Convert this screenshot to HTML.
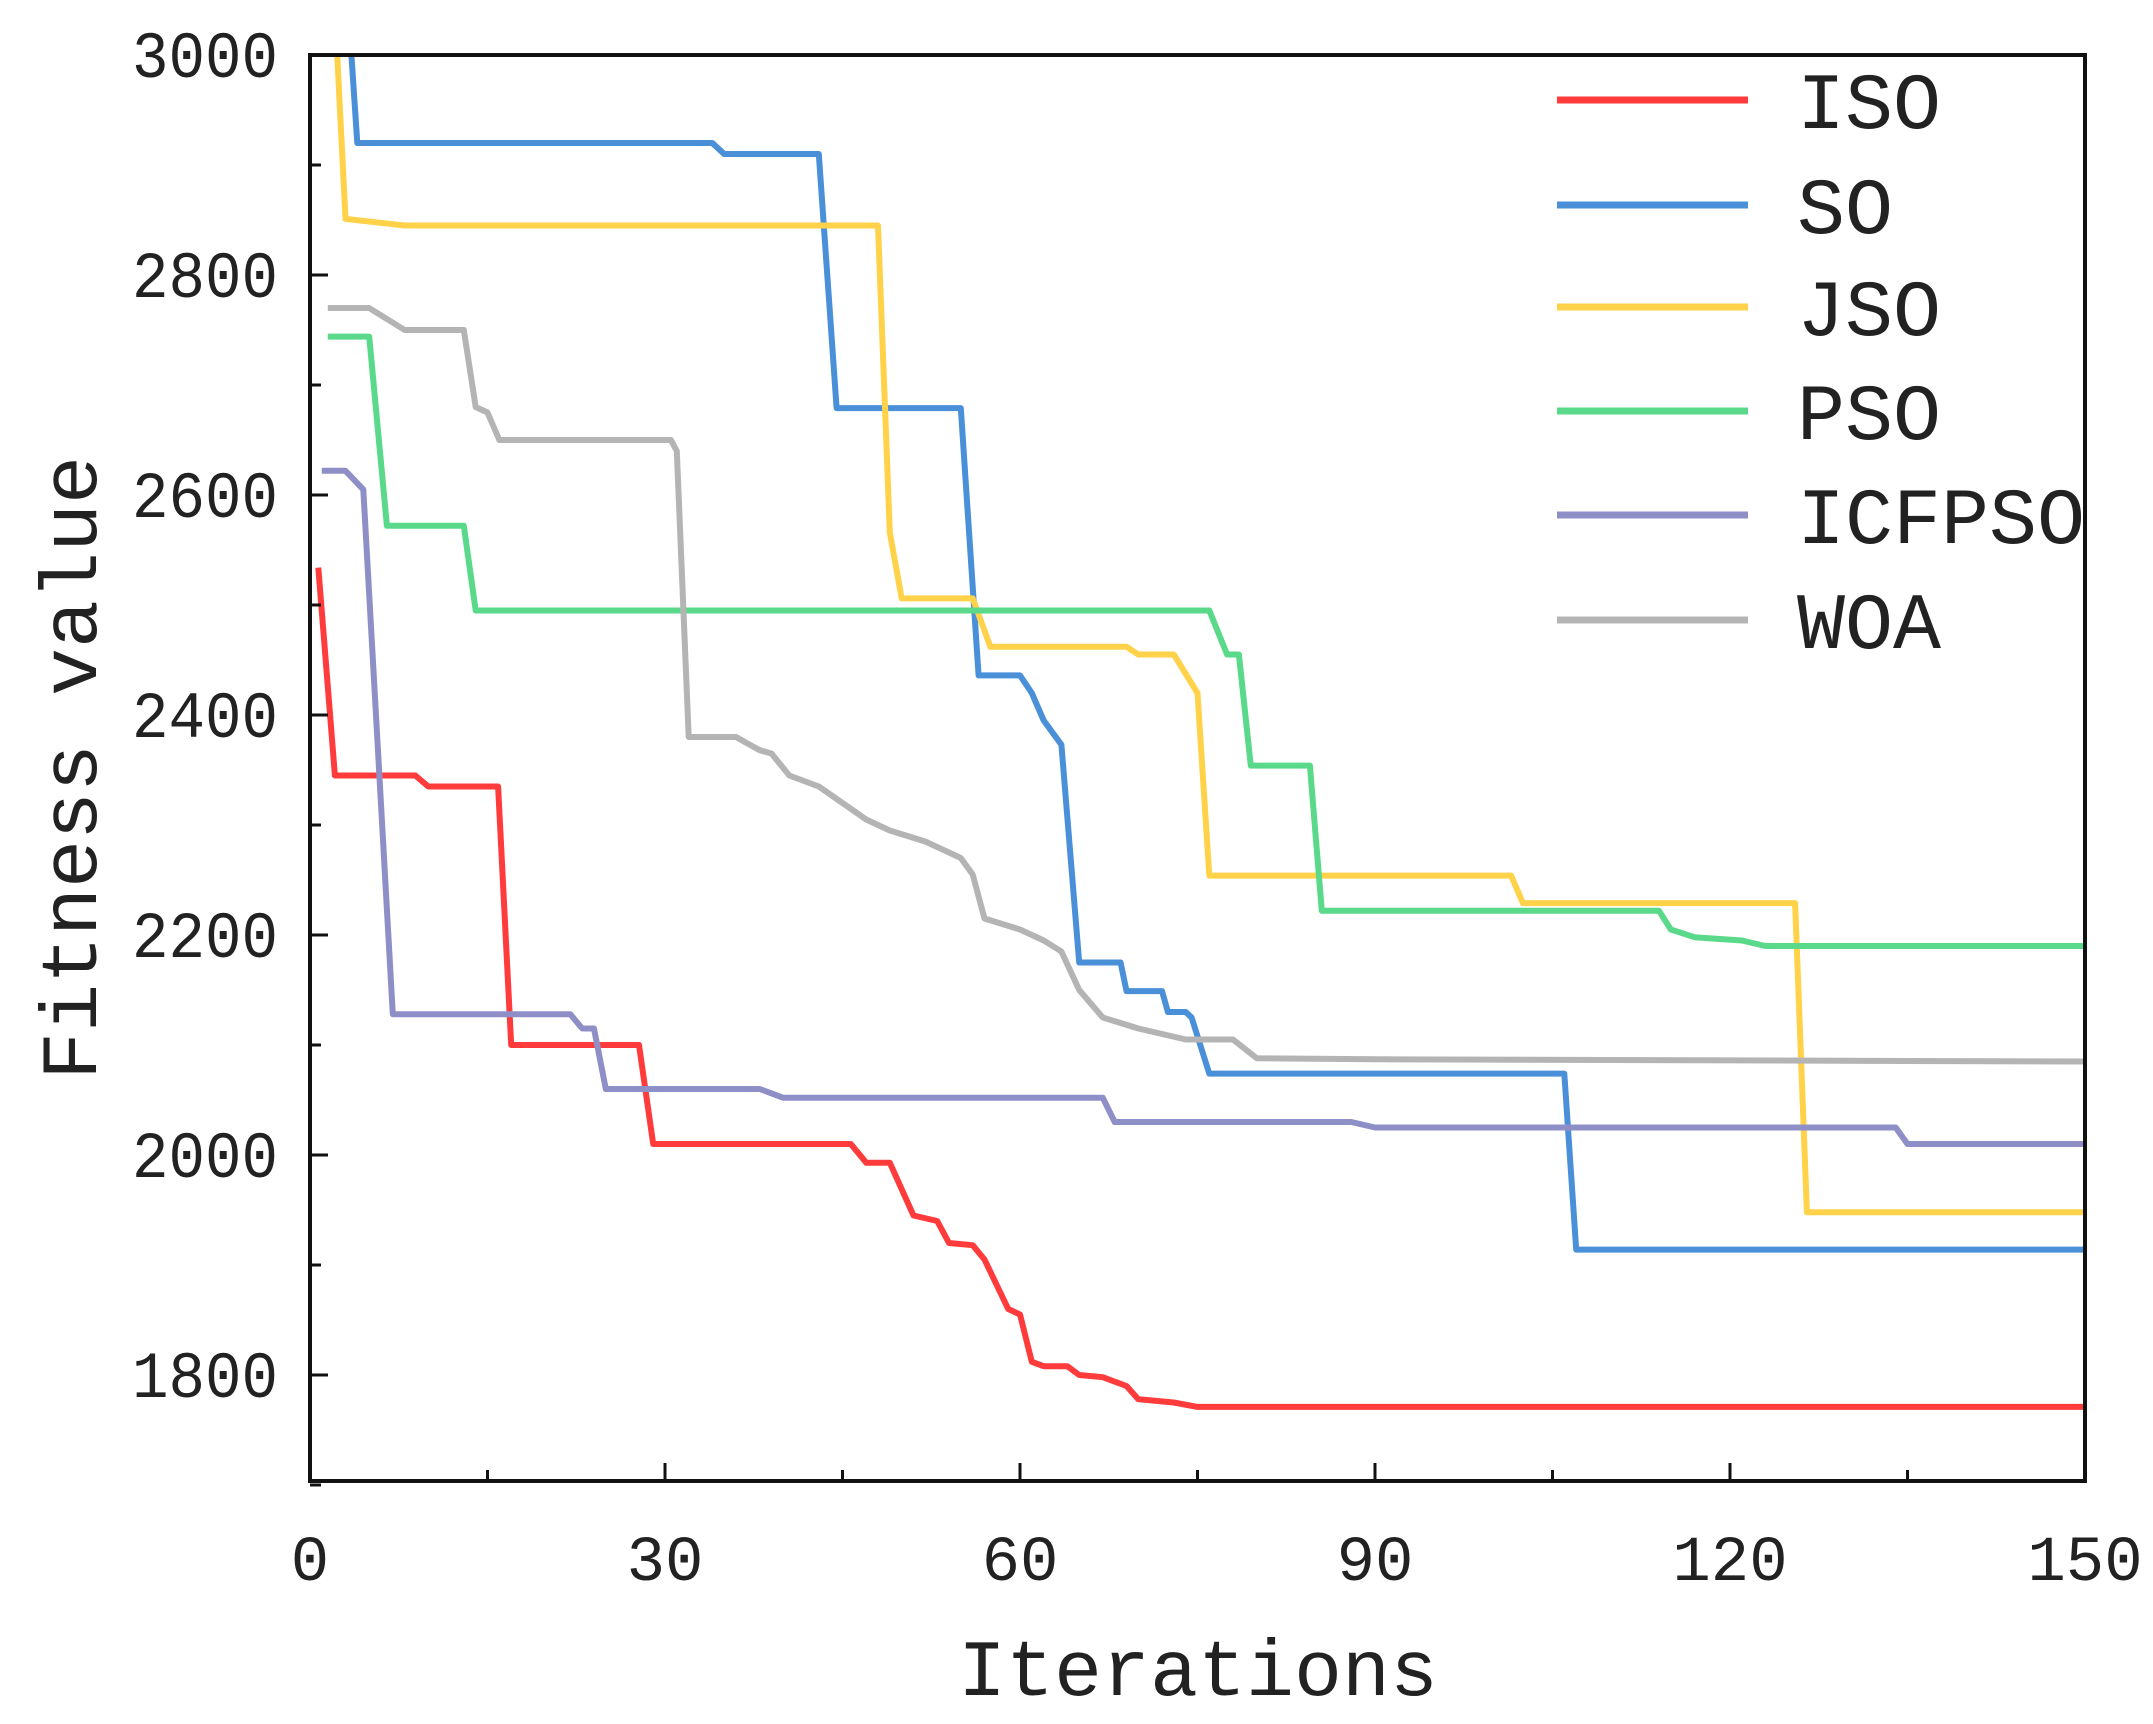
<!DOCTYPE html>
<html><head><meta charset="utf-8"><style>
html,body{margin:0;padding:0;background:#fff;}
svg{display:block;}
text{font-family:"Liberation Mono","DejaVu Sans Mono",monospace;fill:#222;}
</style></head><body>
<svg id="chart" width="2153" height="1724" viewBox="0 0 2153 1724" xmlns="http://www.w3.org/2000/svg">
<g id="plot"></g>
</svg>
<script>
const xTicks=[0,30,60,90,120,150];
const yTicks=[1800,2000,2200,2400,2600,2800,3000];
const seriesNames=["ISO","SO","JSO","PSO","ICFPSO","WOA"];
const seriesColors=["#ff3b3b","#4a90d9","#ffd24a","#5ad98a","#8f8fc8","#b4b4b4"];
const isoIt=[0.7,2.1,8.9,10,15.9,17,27.8,29,45.7,47,49,51,53,54,56,57,59,60,61,62,64,65,67,69,70,73,75,150];
const isoVal=[2534,2345,2345,2335,2335,2100,2100,2010,2010,1993,1993,1945,1940,1920,1918,1905,1860,1855,1812,1808,1808,1800,1798,1790,1778,1775,1771,1771];
const soIt=[3.5,4,34,35,43,44.5,55,56.5,60,61,62,63.5,65,68.5,69,72,72.5,74,74.5,76,106,107,150];
const soVal=[3000,2920,2920,2910,2910,2679,2679,2436,2436,2420,2395,2373,2175,2175,2149,2149,2130,2130,2125,2074,2074,1914,1914];
const jsoIt=[2.3,3,8,48,49,50,56,57.5,69,70,73,75,76,101.5,102.5,125.5,126.5,150];
const jsoVal=[3000,2851,2845,2845,2566,2506,2506,2462,2462,2455,2455,2420,2254,2254,2229,2229,1948,1948];
const psoIt=[1.5,5,6.5,13,14,76,77.5,78.5,79.5,84.5,85.5,114,115,117,121,123,150];
const psoVal=[2744,2744,2572,2572,2495,2495,2455,2455,2354,2354,2222,2222,2205,2198,2195,2190,2190];
const icfIt=[1,3,4.5,7,22,23,24,25,38,40,67,68,88,90,134,135,150];
const icfVal=[2622,2622,2605,2128,2128,2115,2115,2060,2060,2052,2052,2030,2030,2025,2025,2010,2010];
const woaIt=[1.5,5,6.5,8,13,14,15,16,30.5,31,32,36,38,39,40.5,43,45,47,49,52,55,56,57,60,62,63.5,65,67,70,74,78,80,90,150];
const woaVal=[2770,2770,2760,2750,2750,2680,2675,2650,2650,2640,2380,2380,2368,2365,2345,2335,2320,2305,2295,2285,2270,2255,2215,2205,2195,2185,2150,2125,2115,2105,2105,2088,2087,2085];
const allIt=[isoIt,soIt,jsoIt,psoIt,icfIt,woaIt];
const allVal=[isoVal,soVal,jsoVal,psoVal,icfVal,woaVal];

const L=310,R=2085,T=55,B=1481;
const X=v=>L+(v-0)/150*(R-L);
const Y=v=>55+(3000-v)/1200*(1375-55);
const NS="http://www.w3.org/2000/svg";
const g=document.getElementById('plot');
function mk(tag,attrs){const e=document.createElementNS(NS,tag);for(const k in attrs)e.setAttribute(k,attrs[k]);g.appendChild(e);return e;}

const defs=mk('defs',{});
const cp=document.createElementNS(NS,'clipPath');cp.setAttribute('id','clip');
const cr=document.createElementNS(NS,'rect');cr.setAttribute('x',L);cr.setAttribute('y',T);cr.setAttribute('width',R-L);cr.setAttribute('height',B-T);
cp.appendChild(cr);defs.appendChild(cp);

for(let s=0;s<6;s++){
  const pts=allIt[s].map((it,i)=>X(it).toFixed(1)+','+Y(allVal[s][i]).toFixed(1)).join(' ');
  const pl=mk('polyline',{points:pts,fill:'none',stroke:seriesColors[s],'stroke-width':6,'stroke-linejoin':'round','clip-path':'url(#clip)'});
  
  
}

const fr=mk('rect',{x:L,y:T,width:R-L,height:B-T,fill:'none',stroke:'#111','stroke-width':4});



for(let v=0;v<=150;v+=15){
  const major=v%30===0;
  const t=mk('line',{x1:X(v),x2:X(v),y1:B,y2:B-(major?18:11),stroke:'#111','stroke-width':3});
  
  
}
xTicks.forEach(v=>{
  const t=mk('text',{x:X(v),y:1580,'text-anchor':'middle','font-size':64});
  t.textContent=v;
  
  
});
for(let v=1700;v<=3000;v+=100){
  const major=v%200===0;
  const t=mk('line',{x1:L,x2:L+(major?18:11),y1:Y(v),y2:Y(v),stroke:'#111','stroke-width':3});
  
  
}
yTicks.forEach(v=>{
  const t=mk('text',{x:278,y:Y(v)+22,'text-anchor':'end','font-size':66,'textLength':146,'lengthAdjust':'spacingAndGlyphs'});
  t.textContent=v;
  
  
});
const xt=mk('text',{x:1198,y:1695,'text-anchor':'middle','font-size':80});
xt.textContent='Iterations';


const yt=mk('text',{x:0,y:0,'text-anchor':'middle','font-size':80,transform:'translate(96,768) rotate(-90)'});
yt.textContent='Fitness value';



const legY=[100,205,307,411,515,620];
for(let s=0;s<6;s++){
  const ln=mk('line',{x1:1557,x2:1748,y1:legY[s],y2:legY[s],stroke:seriesColors[s],'stroke-width':7});
  
  
  const tx=mk('text',{x:1797,y:legY[s]+28,'font-size':80});
  tx.textContent=seriesNames[s];
  
  
}
</script>
</body></html>
